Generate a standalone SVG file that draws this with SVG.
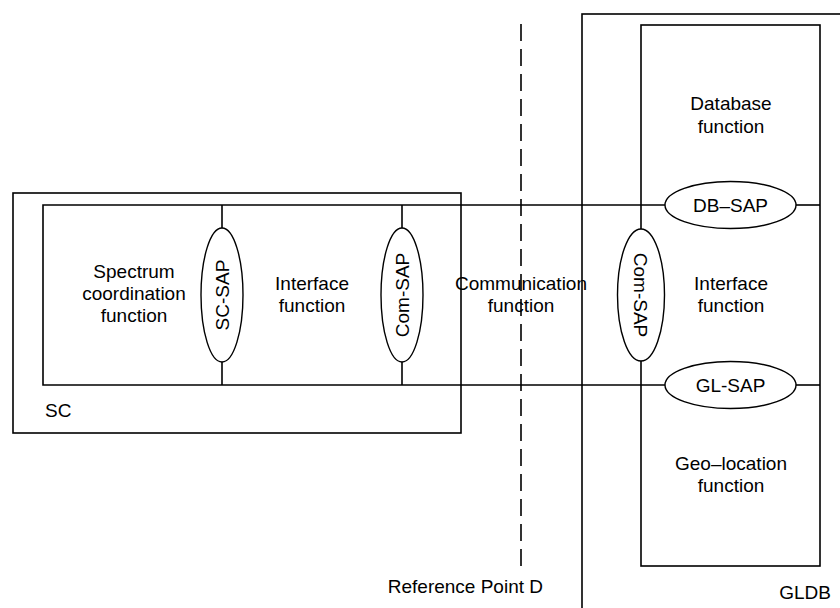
<svg xmlns="http://www.w3.org/2000/svg" width="840" height="608" viewBox="0 0 840 608">
<style>
.ln{fill:none;stroke:#000;stroke-width:1.6}
.box{fill:none;stroke:#000;stroke-width:1.6}
.sap{fill:#fff;stroke:#000;stroke-width:1.4}
.dash{fill:none;stroke:#000;stroke-width:1.6;stroke-dasharray:17 8}
text{font-family:"Liberation Sans",Arial,sans-serif;font-size:19px;fill:#000}
.m{text-anchor:middle}
</style>
<rect width="840" height="608" fill="#fff"/>
<g id="sc">
<rect class="box" x="13" y="193" width="448" height="240"/>
<text x="45" y="417">SC</text>
</g>
<g id="gldb">
<rect class="box" x="582" y="14" width="300" height="700"/>
<text x="805" y="599" class="m">GLDB</text>
</g>
<g id="ref-point-d">
<line class="dash" x1="521" y1="24" x2="521" y2="566"/>
<text x="543" y="593" text-anchor="end">Reference Point D</text>
</g>
<g id="connectors">
<polyline class="ln" points="665,205 43,205 43,385 665,385"/>
<line class="ln" x1="796" y1="205" x2="820" y2="205"/>
<line class="ln" x1="796" y1="385" x2="820" y2="385"/>
<line class="ln" x1="222" y1="205" x2="222" y2="385"/>
<line class="ln" x1="402" y1="205" x2="402" y2="385"/>
</g>
<g id="gldb-inner">
<rect class="box" x="641" y="25" width="179" height="541"/>
</g>
<g id="spectrum-coordination-function">
<text x="134" y="278" class="m">Spectrum</text>
<text x="134" y="300" class="m">coordination</text>
<text x="134" y="322" class="m">function</text>
</g>
<g id="sc-sap">
<ellipse class="sap" cx="222" cy="295" rx="21" ry="67"/>
<text transform="translate(222,295) rotate(-90)" x="0" y="7" class="m">SC-SAP</text>
</g>
<g id="sc-interface-function">
<text x="312" y="290" class="m">Interface</text>
<text x="312" y="312" class="m">function</text>
</g>
<g id="sc-com-sap">
<ellipse class="sap" cx="402" cy="295" rx="21" ry="67"/>
<text transform="translate(402,295) rotate(-90)" x="0" y="7" class="m">Com-SAP</text>
</g>
<g id="communication-function">
<text x="521" y="290" class="m">Communication</text>
<text x="521" y="312" class="m">function</text>
</g>
<g id="gldb-com-sap">
<ellipse class="sap" cx="641" cy="295" rx="23.5" ry="66"/>
<text transform="translate(641,295) rotate(90)" x="0" y="7" class="m">Com-SAP</text>
</g>
<g id="database-function">
<text x="731" y="110" class="m">Database</text>
<text x="731" y="133" class="m">function</text>
</g>
<g id="db-sap">
<ellipse class="sap" cx="730.5" cy="205" rx="65.5" ry="23.5"/>
<text x="730.5" y="212" class="m">DB–SAP</text>
</g>
<g id="gldb-interface-function">
<text x="731" y="290" class="m">Interface</text>
<text x="731" y="312" class="m">function</text>
</g>
<g id="gl-sap">
<ellipse class="sap" cx="730.5" cy="385" rx="65.5" ry="23.5"/>
<text x="730.5" y="392" class="m">GL-SAP</text>
</g>
<g id="geo-location-function">
<text x="731" y="470" class="m">Geo–location</text>
<text x="731" y="492" class="m">function</text>
</g>
</svg>
